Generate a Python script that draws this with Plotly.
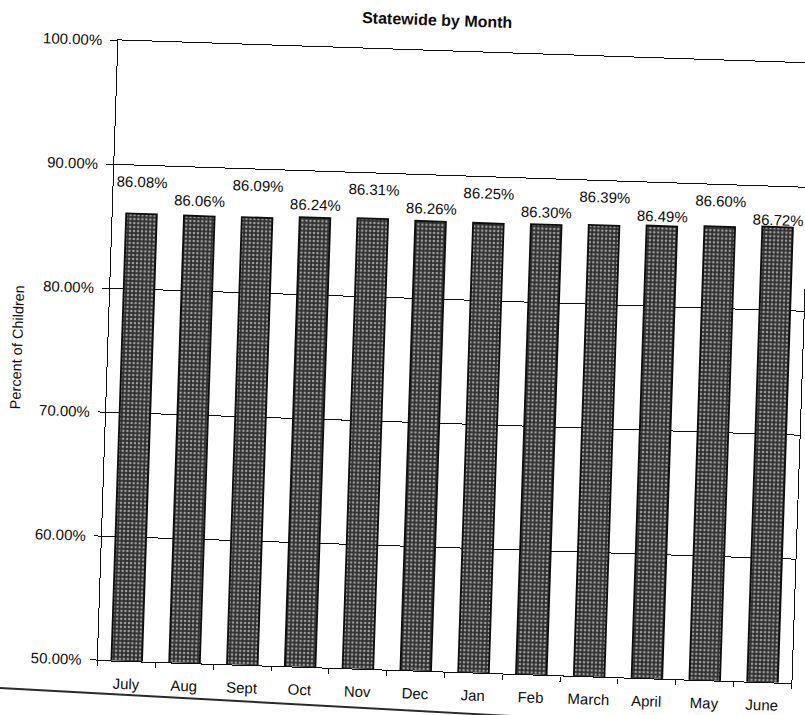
import plotly.graph_objects as go

# Monthly share of children, statewide (percent)
months = ["July", "Aug", "Sept", "Oct", "Nov", "Dec",
          "Jan", "Feb", "March", "April", "May", "June"]
pct_children = [86.08, 86.06, 86.09, 86.24, 86.31, 86.26,
                86.25, 86.30, 86.39, 86.49, 86.60, 86.72]
y_ticks = [50, 60, 70, 80, 90, 100]
y_tick_labels = [f"{t:.2f}%" for t in y_ticks]

# value labels sit on two alternating rows (axis units)
LABEL_ROWS = [88.7, 87.3]

FONT = "Liberation Sans, Arial, sans-serif"
INK = "#0d0d0d"
W, H = 805, 715
ML, MR, MT, MB = 108, 3, 50, 45

fig = go.Figure(
    go.Bar(
        x=months,
        y=pct_children,
        marker=dict(
            color="#3a3a3a",
            line=dict(color=INK, width=1.8),
            pattern=dict(shape=".", fillmode="replace", bgcolor="#2f2f2f",
                         fgcolor="#a0a0a0", size=4, solidity=0.32),
        ),
        hoverinfo="skip",
        showlegend=False,
    )
)

for i, (m, v) in enumerate(zip(months, pct_children)):
    fig.add_annotation(
        x=m, y=LABEL_ROWS[i % 2], text=f"{v:.2f}%", showarrow=False,
        xanchor="center", yanchor="middle",
        font=dict(family=FONT, size=15, color=INK),
    )

# horizontal rule printed beneath the chart
px_w, px_h = W - ML - MR, H - MT - MB
fig.add_shape(
    type="line", xref="paper", yref="paper",
    x0=(0 - ML) / px_w, y0=(H - MB - 701) / px_h,
    x1=(560 - ML) / px_w, y1=(H - MB - 713) / px_h,
    line=dict(color="#2a2a2a", width=2),
)

fig.update_layout(
    width=W, height=H,
    margin=dict(l=ML, r=MR, t=MT, b=MB),
    paper_bgcolor="white", plot_bgcolor="white",
    bargap=0.47,
    font=dict(family=FONT, size=15, color=INK),
    title=dict(text="<b>Statewide by Month</b>", x=426 / W, xanchor="center",
               y=1 - 19 / H, yanchor="middle", font=dict(size=16)),
)

fig.update_yaxes(
    range=[50, 100], tickvals=y_ticks, ticktext=y_tick_labels,
    ticks="outside", ticklen=7, tickcolor=INK, tickwidth=1,
    ticklabelstandoff=5,
    showgrid=True, gridcolor=INK, gridwidth=1,
    showline=True, linecolor=INK, linewidth=1.4, mirror=True,
    zeroline=False,
    title=dict(text="Percent of Children", font=dict(size=14.5), standoff=6),
)
fig.update_xaxes(
    ticks="outside", tickson="boundaries", ticklen=5, tickcolor=INK,
    ticklabelstandoff=9,
    showline=True, linecolor=INK, linewidth=1.4, mirror=True,
    showgrid=False,
)

# slight clockwise tilt of the whole sheet
TILT_DEG = 1.9
post = (
    "var gd=document.getElementById('{plot_id}');"
    "gd.style.transform='rotate(" + str(TILT_DEG) + "deg)';"
    "gd.style.transformOrigin='" + str(W / 2) + "px " + str(H / 2) + "px';"
    "document.body.style.margin='0';document.body.style.overflow='hidden';"
)
fig.write_html("out.html", post_script=post, config={"displayModeBar": False})
